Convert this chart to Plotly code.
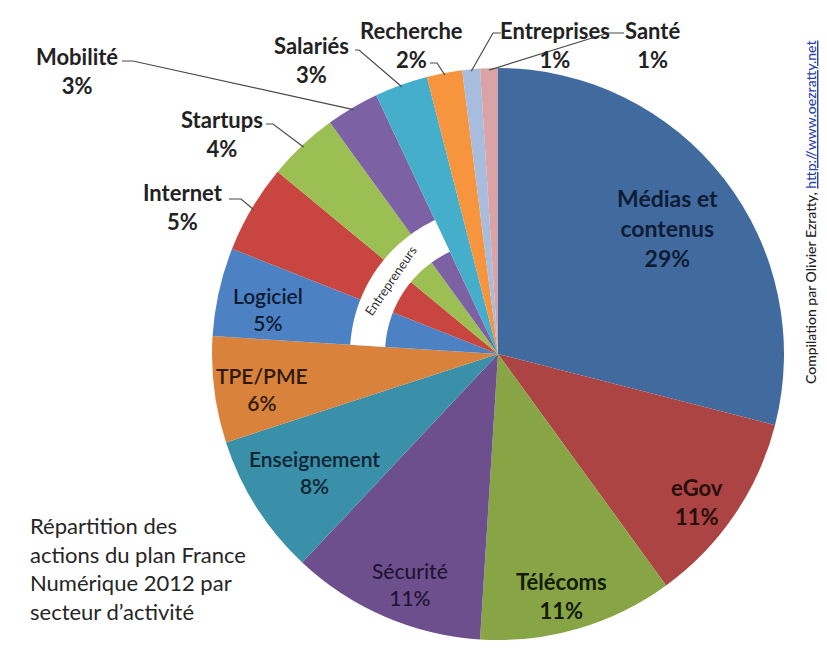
import math
import plotly.graph_objects as go

# ---------------- data ----------------
categories = ["Médias et contenus", "eGov", "Télécoms", "Sécurité", "Enseignement",
              "TPE/PME", "Logiciel", "Internet", "Startups", "Mobilité", "Salariés",
              "Recherche", "Entreprises", "Santé"]
values = [29, 11, 11, 11, 8, 6, 5, 5, 4, 3, 3, 2, 1, 1]
colors = ["#416b9f", "#ab4442", "#88a546", "#6d4f8e", "#3a8fa9", "#d9823c", "#4c82c4",
          "#c8463f", "#9bbf53", "#7d61a5", "#44aecb", "#f6953d", "#a8bcdd", "#daa3a6"]
group_name = "Entrepreneurs"
group_members = ["Logiciel", "Internet", "Startups", "Mobilité"]
title_text = "Répartition des<br>actions du plan France<br>Numérique 2012 par<br>secteur d’activité"
credit_text = "Compilation par Olivier Ezratty, "
credit_url = "http://www.oezratty.net"

# ---------------- layout constants (pixels) ----------------
W, H = 827, 668
CX, CY, R = 498, 354, 286

def paper(x, y):
    return x / W, 1 - y / H

total = sum(values)
starts = []
acc = 0
for v in values:
    starts.append(acc / total)
    acc += v

def edge_point(frac, rad=R):
    th = 2 * math.pi * frac
    return CX + rad * math.sin(th), CY - rad * math.cos(th)

label_wrap = {"Médias et contenus": "Médias et<br>contenus"}
# x, y, colour, weight, size
inside_pos = {
    "Médias et contenus": (667, 228, "#0e1c36", 700, 23),
    "eGov": (697, 502, "#2a0e0e", 700, 22),
    "Télécoms": (561, 596, "#131b06", 700, 22),
    "Sécurité": (410, 584, "#1e1431", 500, 21),
    "Enseignement": (314, 472, "#0f2431", 600, 21),
    "TPE/PME": (262, 389, "#2c1a08", 600, 21),
    "Logiciel": (268, 309, "#0c1a33", 600, 21),
}
# label centre, leader start, leader elbow
outside_pos = {
    "Internet": ((183, 207), (229, 199), (241, 199)),
    "Startups": ((222, 134), (266, 124), (273, 124)),
    "Mobilité": ((77, 71), (122, 61), (133, 61)),
    "Salariés": ((311, 60), (355, 50), (359, 50)),
    "Recherche": ((411, 45), (430, 63), (437, 63)),
    "Entreprises": ((555, 45), (501, 33), (493, 33)),
    "Santé": ((652, 45), (624, 33), (608, 33)),
}

FONT = "Lato, 'Open Sans', sans-serif"

fig = go.Figure(go.Pie(
    labels=categories, values=values, sort=False, direction="clockwise", rotation=0,
    marker=dict(colors=colors, line=dict(width=0)),
    textinfo="none", hoverinfo="label+percent", showlegend=False,
    domain=dict(x=[(CX - R) / W, (CX + R) / W], y=[1 - (CY + R) / H, 1 - (CY - R) / H]),
))

annotations = []
shapes = []

for i, cat in enumerate(categories):
    pct = f"{round(values[i] / total * 100)}%"
    name = label_wrap.get(cat, cat)
    if cat in inside_pos:
        x, y, col, wt, sz = inside_pos[cat]
        px_, py_ = paper(x, y)
        annotations.append(dict(x=px_, y=py_, xref="paper", yref="paper",
                                text=f"{name}<br>{pct}",
                                showarrow=False, xanchor="center", yanchor="middle",
                                font=dict(family=FONT, size=sz, color=col, weight=wt)))
    elif cat in outside_pos:
        (lx, ly), s, e = outside_pos[cat]
        px_, py_ = paper(lx, ly)
        annotations.append(dict(x=px_, y=py_, xref="paper", yref="paper",
                                text=f"{name}<br>{pct}", showarrow=False,
                                xanchor="center", yanchor="middle",
                                font=dict(family=FONT, size=22, color="#222222", weight=700)))
        mid = starts[i] + values[i] / total / 2
        tx, ty = edge_point(mid, R - 2)
        pts = [paper(*s), paper(*e), paper(tx, ty)]
        path = "M " + " L ".join(f"{a:.5f},{b:.5f}" for a, b in pts)
        shapes.append(dict(type="path", path=path, xref="paper", yref="paper",
                           line=dict(color="#4a4a4a", width=1.2), layer="above"))

# Entrepreneurs band
gi = [categories.index(c) for c in group_members]
f0 = starts[min(gi)]
f1 = starts[max(gi)] + values[max(gi)] / total
r_in, r_out = 113, 148
n = 40
outer = [edge_point(f0 + (f1 - f0) * k / n, r_out) for k in range(n + 1)]
inner = [edge_point(f1 - (f1 - f0) * k / n, r_in) for k in range(n + 1)]
pts = [paper(*p) for p in outer + inner]
path = "M " + " L ".join(f"{a:.5f},{b:.5f}" for a, b in pts) + " Z"
shapes.append(dict(type="path", path=path, xref="paper", yref="paper",
                   fillcolor="white", line=dict(width=0), layer="above"))
fm = (f0 + f1) / 2
gx, gy = edge_point(fm, (r_in + r_out) / 2)
ang = math.degrees(math.atan2(math.sin(2 * math.pi * fm), math.cos(2 * math.pi * fm)))
gpx, gpy = paper(gx, gy)
annotations.append(dict(x=gpx, y=gpy, xref="paper", yref="paper", text=group_name,
                        showarrow=False, textangle=ang, xanchor="center", yanchor="middle",
                        font=dict(family=FONT, size=13, color="#333333")))

# Title block bottom-left
tx_, ty_ = paper(28, 568)
annotations.append(dict(x=tx_, y=ty_, xref="paper", yref="paper", text=title_text,
                        showarrow=False, xanchor="left", yanchor="middle", align="left",
                        font=dict(family=FONT, size=22, color="#262626")))

# vertical credit
cx_, cy_ = paper(811, 213)
annotations.append(dict(x=cx_, y=cy_, xref="paper", yref="paper",
                        text=credit_text + f"<span style='color:#2b3fb0'><u>{credit_url}</u></span>",
                        showarrow=False, textangle=-90, xanchor="center", yanchor="middle",
                        font=dict(family=FONT, size=14, color="#222222", weight=500)))

fig.update_layout(width=W, height=H, margin=dict(l=0, r=0, t=0, b=0),
                  paper_bgcolor="white", plot_bgcolor="white",
                  annotations=annotations, shapes=shapes)
fig.write_html("out.html")
